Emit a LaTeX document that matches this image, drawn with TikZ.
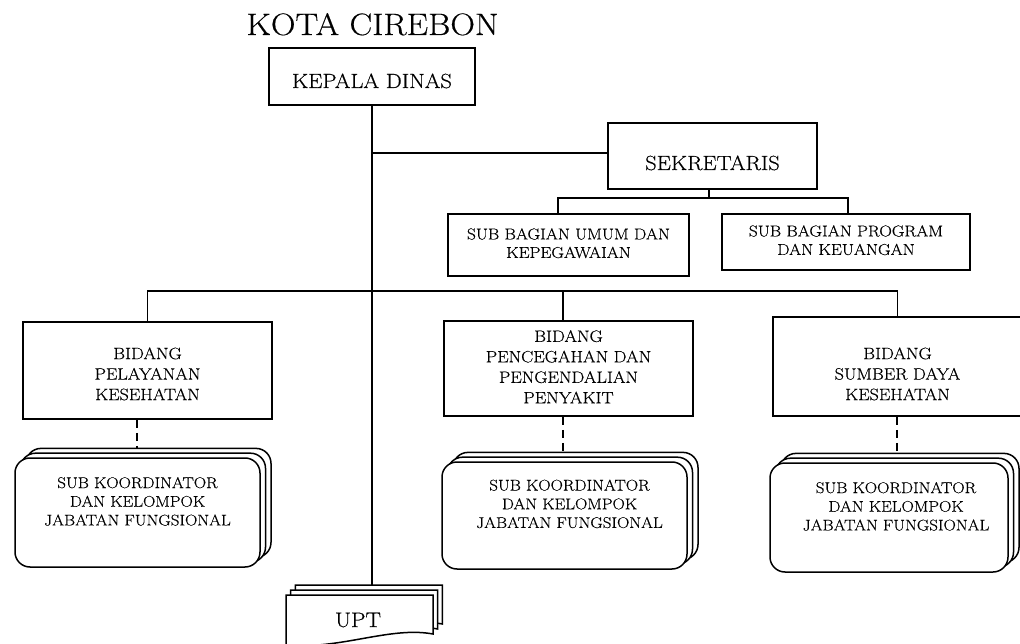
\documentclass[tikz,border=0pt]{standalone}
\usepackage{fontspec}
\setmainfont{Latin Modern Roman}[FakeStretch=1.1,FakeBold=0.4]
\usetikzlibrary{shadows}
\newcommand\liftbox[2]{\raisebox{#1}[\height][\depth]{\begin{tabular}{@{}c@{}}#2\end{tabular}}}
\begin{document}
\begin{tikzpicture}[x=1pt,y=-1pt,
  box/.style={draw, line width=1.6pt, fill=white, inner sep=0pt, align=center},
  conn/.style={line width=1.4pt},
  dashconn/.style={line width=1.4pt, dash pattern=on 8pt off 5pt},
  stackbox/.style={draw, line width=1.5pt, fill=white, rounded corners=15pt, inner sep=0pt, align=center,
    double copy shadow={shadow xshift=5.5pt, shadow yshift=4.8pt, line width=1.5pt}},
  bigfont/.style={font=\fontsize{20.5}{24}\selectfont},
  midfont/.style={font=\fontsize{16.5}{20.5}\selectfont},
  smallfont/.style={font=\fontsize{15.8}{18.5}\selectfont},
  skfont/.style={font=\fontsize{15.5}{18.7}\selectfont},
  updoc/.style={draw, line width=1.5pt, fill=white}]
\fill[white] (0,0) rectangle (1020,644);
\useasboundingbox (0,0) rectangle (1020,644);

% title
\node[font=\fontsize{31}{36}\selectfont, anchor=base, inner sep=0pt] (title) at (372.5,35) {KOTA CIREBON};

% boxes
\node[box, bigfont, minimum width=206pt, minimum height=57pt, text height=23pt, text depth=0pt] (kepala) at (372,76.5) {KEPALA DINAS};
\node[box, bigfont, minimum width=209pt, minimum height=66pt, text height=28pt, text depth=0pt] (sek) at (712.5,156) {SEKRETARIS};
\node[box, smallfont, minimum width=241pt, minimum height=62pt] (umum) at (568.5,245) {\liftbox{0pt}{SUB BAGIAN UMUM DAN\\KEPEGAWAIAN}};
\node[box, smallfont, minimum width=248pt, minimum height=56pt] (prog) at (846,242) {\liftbox{0pt}{SUB BAGIAN PROGRAM\\DAN KEUANGAN}};

\node[box, midfont, minimum width=249pt, minimum height=97pt] (bid1) at (147.5,370.5) {\liftbox{-5pt}{BIDANG\\PELAYANAN\\KESEHATAN}};
\node[box, midfont, minimum width=249pt, minimum height=95pt] (bid2) at (568.5,368.5) {\liftbox{0pt}{BIDANG\\PENCEGAHAN DAN\\PENGENDALIAN\\PENYAKIT}};
\node[box, midfont, minimum width=249pt, minimum height=99pt] (bid3) at (897.5,366.5) {\liftbox{-9pt}{BIDANG\\SUMBER DAYA\\KESEHATAN}};

% stacked boxes
\node[stackbox, skfont, minimum width=245pt, minimum height=109pt] (sk1) at (137.5,512.5) {\liftbox{9.5pt}{SUB KOORDINATOR\\DAN KELOMPOK\\JABATAN FUNGSIONAL}};
\node[stackbox, skfont, minimum width=245pt, minimum height=107pt] (sk2) at (564.5,515.5) {\hspace*{10pt}\liftbox{10pt}{SUB KOORDINATOR\\DAN KELOMPOK\\JABATAN FUNGSIONAL}};
\node[stackbox, skfont, minimum width=238pt, minimum height=109pt] (sk3) at (889,517.5) {\hspace*{14pt}\liftbox{9.5pt}{SUB KOORDINATOR\\DAN KELOMPOK\\JABATAN FUNGSIONAL}};

% UPT multi-document
\foreach \d in {2,1,0}{
  \draw[updoc, shift={(\d*4.7,-\d*5)}] (286,595) -- (433,595) -- (433,634)
    .. controls (390,626) and (340,650) .. (286,645) -- cycle;
}
\node[font=\fontsize{21}{24}\selectfont, inner sep=0pt] (upt) at (358,620) {UPT};

% coordinates
\coordinate (upttop) at (372,585);
\coordinate (t1) at (372,153);
\coordinate (s0) at (709,198);
\coordinate (s1) at (558,198);
\coordinate (s2) at (848,198);
\coordinate (hL) at (147.5,291);
\coordinate (hM) at (563,291);
\coordinate (hR) at (897.5,291);
\coordinate (e1) at (137,448);
\coordinate (e2) at (563,452);
\coordinate (e3) at (897,453);

% connectors
\draw[conn] (kepala.south) -- (upttop);
\draw[conn] (t1) -- (sek.west |- t1);
\draw[conn] (s0 |- sek.south) -- (s0);
\draw[conn] (s1 |- umum.north) -- (s1) -- (s2) -- (s2 |- prog.north);
\draw[conn] (bid1.north) -- (hL) -- (hR) -- (bid3.north);
\draw[conn] (hM) -- (hM |- bid2.north);
\draw[dashconn] (e1 |- bid1.south) -- (e1);
\draw[dashconn] (e2 |- bid2.south) -- (e2);
\draw[dashconn] (e3 |- bid3.south) -- (e3);
\end{tikzpicture}
\end{document}
